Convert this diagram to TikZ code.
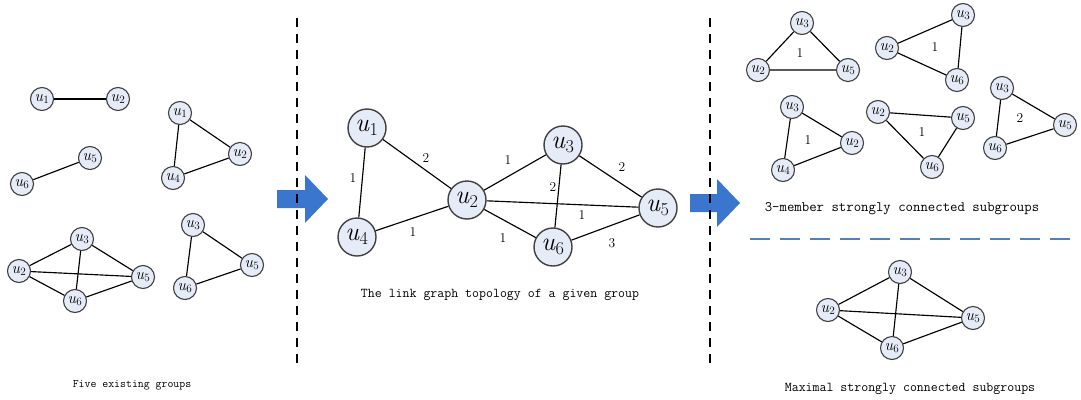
\documentclass[tikz,border=0pt]{standalone}
\usepackage{fontspec}

\definecolor{nodefill}{RGB}{230,236,247}
\definecolor{nodeline}{RGB}{64,64,64}
\definecolor{flowblue}{RGB}{58,118,206}
\definecolor{splitblue}{RGB}{79,129,189}

\newcommand\usr[1]{\textit{u}\textsubscript{#1}}

\tikzset{
  member/.style={circle, draw=nodeline, fill=nodefill, line width=1.1pt,
    inner sep=0pt, minimum size=23pt, font=\fontsize{16}{16}\selectfont},
  bigmember/.style={member, minimum size=38pt, line width=1.4pt,
    font=\fontsize{26}{26}\selectfont},
  link/.style={line width=1.15pt},
  weight/.style={inner sep=1pt, font=\fontsize{13.5}{13.5}\selectfont},
  caption/.style={inner sep=0pt, font=\ttfamily\fontsize{#1}{#1}\selectfont},
  flow/.style={fill=flowblue},
  split/.style={line width=1.2pt, dash pattern=on 9pt off 7pt},
}

\begin{document}
\begin{tikzpicture}[x=1pt,y=-1pt]
  \useasboundingbox (0,0) rectangle (1081,399);

  % arrows between the panels
  \fill[flow] (277,190) -- (305,190) -- (305,175) -- (328,199)
    -- (305,223) -- (305,208) -- (277,208) -- cycle;
  \fill[flow] (690,194) -- (717,194) -- (717,179) -- (740,203)
    -- (717,227) -- (717,212) -- (690,212) -- cycle;
  \draw[split] (297,18) -- (297,366);
  \draw[split] (710,18) -- (710,366);

  % existing groups
  \node[member] (p1) at (42,99) {\usr1};
  \node[member] (p2) at (118,99) {\usr2};
  \node[member] (q1) at (180,113) {\usr1};
  \node[member] (q2) at (240,154) {\usr2};
  \node[member] (q4) at (173,178) {\usr4};
  \node[member] (r5) at (90,158) {\usr5};
  \node[member] (r6) at (22,184) {\usr6};
  \node[member] (s3) at (82,239) {\usr3};
  \node[member] (s2) at (19,271) {\usr2};
  \node[member] (s5) at (143,277) {\usr5};
  \node[member] (s6) at (75,301) {\usr6};
  \node[member] (t3) at (193,225) {\usr3};
  \node[member] (t5) at (252,265) {\usr5};
  \node[member] (t6) at (185,288) {\usr6};
  \foreach \a/\b in {p1/p2, q1/q2, q1/q4, q4/q2, r5/r6,
      s2/s3, s3/s5, s2/s5, s2/s6, s6/s5, s3/s6, t3/t5, t3/t6, t6/t5}
    \draw[link] (\a) -- (\b);
  \node[caption=11.5] (cap1) at (132,385) {Five existing groups};

  % link graph of the group
  \node[bigmember] (n1) at (367,128) {\usr1};
  \node[bigmember] (n4) at (357,237) {\usr4};
  \node[bigmember] (n2) at (467,200) {\usr2};
  \node[bigmember] (n3) at (563,145) {\usr3};
  \node[bigmember] (n5) at (658,208) {\usr5};
  \node[bigmember] (n6) at (553,247) {\usr6};
  \foreach \a/\b in {n1/n2, n1/n4, n4/n2, n2/n3, n2/n5, n2/n6,
      n3/n5, n3/n6, n6/n5}
    \draw[link] (\a) -- (\b);
  \node[weight] (w12) at (426,158) {2};
  \node[weight] (w14) at (353,178) {1};
  \node[weight] (w24) at (413,232) {1};
  \node[weight] (w23) at (508,160) {1};
  \node[weight] (w35) at (622,167) {2};
  \node[weight] (w36) at (553,187) {2};
  \node[weight] (w25) at (582,215) {1};
  \node[weight] (w26) at (503,238) {1};
  \node[weight] (w56) at (612,243) {3};
  \node[caption=13.5] (cap2) at (500,295) {The link graph topology of a given group};

  % 3-member subgroups
  \node[member] (A3) at (802,23) {\usr3};
  \node[member] (A2) at (758,70) {\usr2};
  \node[member] (A5) at (848,70) {\usr5};
  \node[member] (B3) at (963,15) {\usr3};
  \node[member] (B2) at (887,48) {\usr2};
  \node[member] (B6) at (957,80) {\usr6};
  \node[member] (C3) at (792,107) {\usr3};
  \node[member] (C2) at (852,143) {\usr2};
  \node[member] (C4) at (783,170) {\usr4};
  \node[member] (D2) at (878,112) {\usr2};
  \node[member] (D5) at (963,118) {\usr5};
  \node[member] (D6) at (932,167) {\usr6};
  \node[member] (E3) at (1002,88) {\usr3};
  \node[member] (E5) at (1065,125) {\usr5};
  \node[member] (E6) at (995,148) {\usr6};
  \foreach \x/\y/\z in {A3/A2/A5, B3/B2/B6, C3/C2/C4, D2/D5/D6, E3/E5/E6}
    \draw[link] (\x) -- (\y) (\y) -- (\z) (\z) -- (\x);
  \node[weight] (wA) at (800,53) {1};
  \node[weight] (wB) at (935,47) {1};
  \node[weight] (wC) at (808,140) {1};
  \node[weight] (wD) at (922,132) {1};
  \node[weight] (wE) at (1020,118) {2};
  \node[caption=14.4] (cap3) at (902,209) {3-member strongly connected subgroups};

  \draw[splitblue, line width=2pt, dash pattern=on 20pt off 10pt] (750,239) -- (1076,239);

  % maximal subgroup
  \node[member] (m3) at (900,272) {\usr3};
  \node[member] (m2) at (828,310) {\usr2};
  \node[member] (m5) at (973,318) {\usr5};
  \node[member] (m6) at (892,348) {\usr6};
  \foreach \a/\b in {m2/m3, m3/m5, m2/m5, m2/m6, m6/m5, m3/m6}
    \draw[link] (\a) -- (\b);
  \node[caption=13.5] (cap4) at (910,389) {Maximal strongly connected subgroups};
\end{tikzpicture}
\end{document}
